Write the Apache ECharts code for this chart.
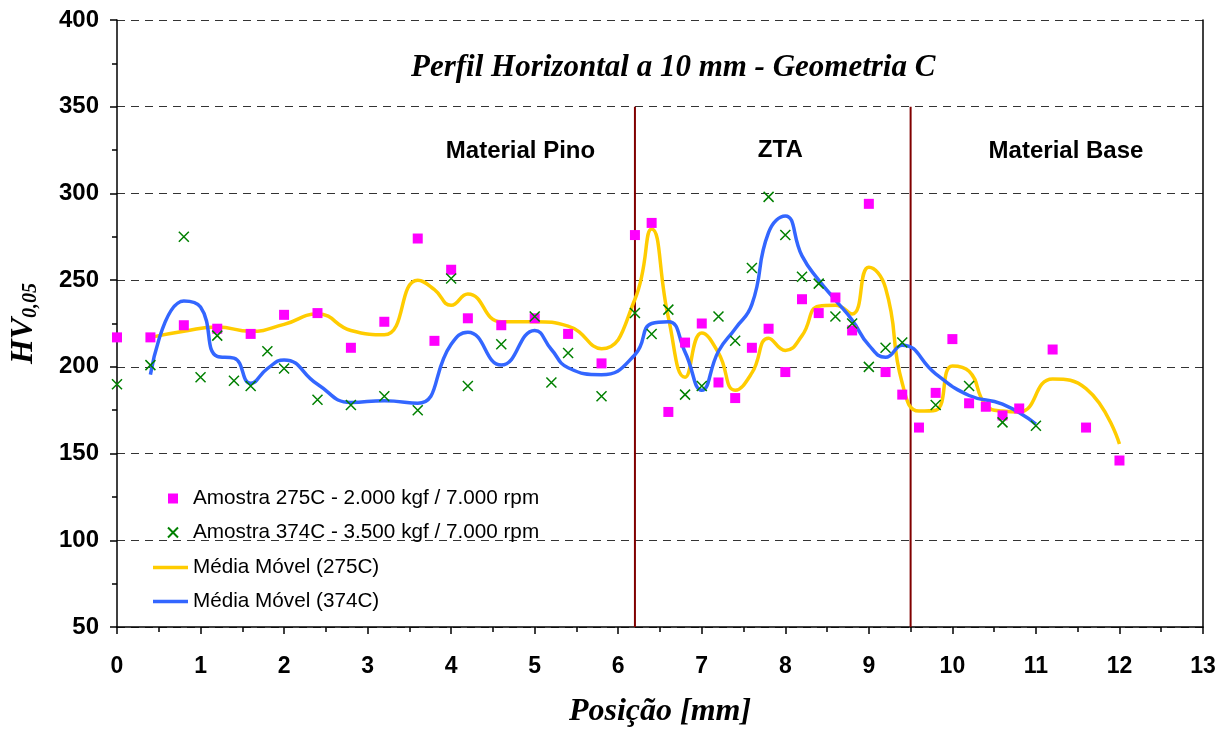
<!DOCTYPE html>
<html>
<head>
<meta charset="utf-8">
<script src="https://cdn.jsdelivr.net/npm/echarts@6/dist/echarts.min.js"></script>
<style>
  html, body { margin: 0; padding: 0; background: #fff; }
  #chart { width: 1225px; height: 733px; }
</style>
</head>
<body>
<div id="chart"></div>
<script>
// Microhardness profile, horizontal line 10 mm from the top – geometry C
const posA = [0, 0.4, 0.8, 1.2, 1.6, 2.0, 2.4, 2.8, 3.2, 3.6, 3.8, 4.0, 4.2, 4.6, 5.0, 5.4, 5.8, 6.2, 6.4, 6.6,
              6.8, 7.0, 7.2, 7.4, 7.6, 7.8, 8.0, 8.2, 8.4, 8.6, 8.8, 9.0, 9.2, 9.4, 9.6, 9.8, 10.0, 10.2, 10.4, 10.6,
              10.8, 11.2, 11.6, 12.0];
const hvA = [217, 217, 224, 222, 219, 230, 231, 211, 226, 274, 215, 256, 228, 224, 228, 219, 202, 276, 283, 174,
             214, 225, 191, 182, 211, 222, 197, 239, 231, 240, 221, 294, 197, 184, 165, 185, 216, 179, 177, 172,
             176, 210, 165, 146];

const posB = [0, 0.4, 0.8, 1.0, 1.2, 1.4, 1.6, 1.8, 2.0, 2.4, 2.8, 3.2, 3.6, 4.0, 4.2, 4.6, 5.0, 5.2, 5.4, 5.8,
              6.2, 6.4, 6.6, 6.8, 7.0, 7.2, 7.4, 7.6, 7.8, 8.0, 8.2, 8.4, 8.6, 8.8, 9.0, 9.2, 9.4, 9.8, 10.2, 10.6,
              11.0];
const hvB = [190, 201, 275, 194, 218, 192, 189, 209, 199, 181, 178, 183, 175, 251, 189, 213, 229, 191, 208, 183,
             231, 219, 233, 184, 189, 229, 215, 257, 298, 276, 252, 248, 229, 225, 200, 211, 214, 178, 189, 168,
             166];

// moving-average curves (2 points), one value per position from the second one on
const maA = [217, 220.5, 223, 220.5, 224.5, 230.5, 221, 218.5, 250, 244.5, 235.5, 242, 226, 226, 223.5, 210.5, 239, 279.5, 228.5,
             194, 219.5, 208, 186.5, 196.5, 216.5, 209.5, 218, 235, 235.5, 230.5, 257.5, 245.5, 190.5, 174.5, 175, 200.5, 197.5, 178, 174.5,
             174, 193, 187.5, 155.5];
const maB = [195.5, 238, 234.5, 206, 205, 190.5, 199, 204, 190, 179.5, 180.5, 179, 213, 220, 201, 221, 210, 199.5, 195.5,
             207, 225, 226, 208.5, 186.5, 209, 222, 236, 277.5, 287, 264, 250, 238.5, 227, 212.5, 205.5, 212.5, 196, 183.5, 178.5,
             167];

// zone boundaries and zone names
const zoneBounds = [6.2, 9.5];
const zoneNames = ['Material Pino', 'ZTA', 'Material Base'];
const zoneLabelPos = [[4.83, 324], [7.94, 325], [11.36, 324]];

const nameA = 'Amostra 275C - 2.000 kgf / 7.000 rpm';
const nameB = 'Amostra 374C - 3.500 kgf / 7.000 rpm';
const nameMA = 'Média Móvel (275C)';
const nameMB = 'Média Móvel (374C)';

const pairs = (xs, ys) => ys.map((v, i) => [xs[i], v]);

const sans = 'Liberation Sans, Arial, sans-serif';
const serif = 'Liberation Serif, Times New Roman, serif';

const chart = echarts.init(document.getElementById('chart'));

const series = [
  {
    name: nameMA, type: 'line', data: pairs(posA.slice(1), maA),
    smooth: 0.5, symbol: 'none', z: 3,
    lineStyle: { color: '#FFCC00', width: 3.5 }, itemStyle: { color: '#FFCC00' }
  },
  {
    name: nameMB, type: 'line', data: pairs(posB.slice(1), maB),
    smooth: 0.5, symbol: 'none', z: 3,
    lineStyle: { color: '#3366FF', width: 3.5 }, itemStyle: { color: '#3366FF' }
  },
  {
    name: nameA, type: 'scatter', data: pairs(posA, hvA),
    symbol: 'rect', symbolSize: 10, z: 4,
    itemStyle: { color: '#FF00FF', opacity: 1 }
  },
  {
    name: nameB, type: 'scatter', data: pairs(posB, hvB),
    symbol: 'path://M0,0L10,10M10,0L0,10', symbolSize: 10, z: 5,
    itemStyle: { color: '#008000', borderColor: '#008000', borderWidth: 1.5, opacity: 1 }
  }
];

zoneBounds.forEach((b) => {
  series.push({
    type: 'line', data: [[b, 50], [b, 350]], symbol: 'none', silent: true, z: 2,
    lineStyle: { color: '#800000', width: 2 }
  });
});

series.push({
  type: 'scatter', silent: true, symbolSize: 0, z: 6,
  itemStyle: { opacity: 1 },
  data: zoneLabelPos.map((p, i) => ({ value: p, name: zoneNames[i] })),
  label: {
    show: true, position: 'inside', formatter: '{b}', opacity: 1,
    fontFamily: sans, fontWeight: 'bold', fontSize: 24, color: '#000'
  }
});

chart.setOption({
  animation: false,
  backgroundColor: '#fff',
  title: {
    text: 'Perfil Horizontal a 10 mm - Geometria C',
    left: 406, top: 47,
    textStyle: { fontFamily: serif, fontStyle: 'italic', fontWeight: 'bold', fontSize: 31, color: '#000' }
  },
  grid: { left: 115, right: 22, top: 20, bottom: 103, containLabel: false },
  legend: [
    {
      data: [nameA, nameB], orient: 'vertical', left: 162, top: 483,
      itemWidth: 10, itemHeight: 10, itemGap: 13,
      textStyle: { fontFamily: sans, fontSize: 20.7, color: '#000', lineHeight: 20, padding: [0, 0, 0, 10] }
    },
    {
      data: [
        { name: nameMA, icon: 'rect' },
        { name: nameMB, icon: 'rect' }
      ],
      orient: 'vertical', left: 148, top: 552,
      itemWidth: 35, itemHeight: 3.5, itemGap: 13,
      textStyle: { fontFamily: sans, fontSize: 20.7, color: '#000', lineHeight: 20 }
    }
  ],
  xAxis: {
    type: 'value', min: 0, max: 13, interval: 1,
    name: 'Posição [mm]', nameLocation: 'middle', nameGap: 69,
    nameTextStyle: { fontFamily: serif, fontStyle: 'italic', fontWeight: 'bold', fontSize: 32, color: '#000' },
    axisLine: { onZero: false, lineStyle: { color: '#000', width: 1.5 } },
    axisTick: { show: true, inside: false, length: 7, lineStyle: { color: '#000', width: 1.5 } },
    minorTick: { show: true, splitNumber: 2, length: 5, lineStyle: { color: '#000', width: 1.5 } },
    splitLine: { show: false },
    axisLabel: { margin: 28, fontFamily: sans, fontWeight: 'bold', fontSize: 23, color: '#000' }
  },
  yAxis: [
    {
      type: 'value', min: 50, max: 400, interval: 50,
      name: '{a|HV}{b|0,05}', nameLocation: 'middle', nameGap: 76,
      nameTextStyle: {
        rich: {
          a: { fontFamily: serif, fontStyle: 'italic', fontWeight: 'bold', fontSize: 32, color: '#000' },
          b: { fontFamily: serif, fontStyle: 'italic', fontWeight: 'bold', fontSize: 20, color: '#000', padding: [14, 0, 0, 0] }
        }
      },
      axisLine: { show: true, lineStyle: { color: '#000', width: 1.5 } },
      axisTick: { show: true, inside: false, length: 7, lineStyle: { color: '#000', width: 1.5 } },
      minorTick: { show: true, splitNumber: 2, length: 5, lineStyle: { color: '#000', width: 1.5 } },
      splitLine: { show: true, lineStyle: { color: '#333', width: 1, type: [8, 6] } },
      axisLabel: { margin: 18, fontFamily: sans, fontWeight: 'bold', fontSize: 24, color: '#000' }
    },
    {
      type: 'value', min: 50, max: 400, interval: 50, position: 'right',
      axisLine: { show: true, lineStyle: { color: '#000', width: 1.5 } },
      axisTick: { show: false }, minorTick: { show: false },
      axisLabel: { show: false }, splitLine: { show: false }
    }
  ],
  series: series
});
</script>
</body>
</html>
